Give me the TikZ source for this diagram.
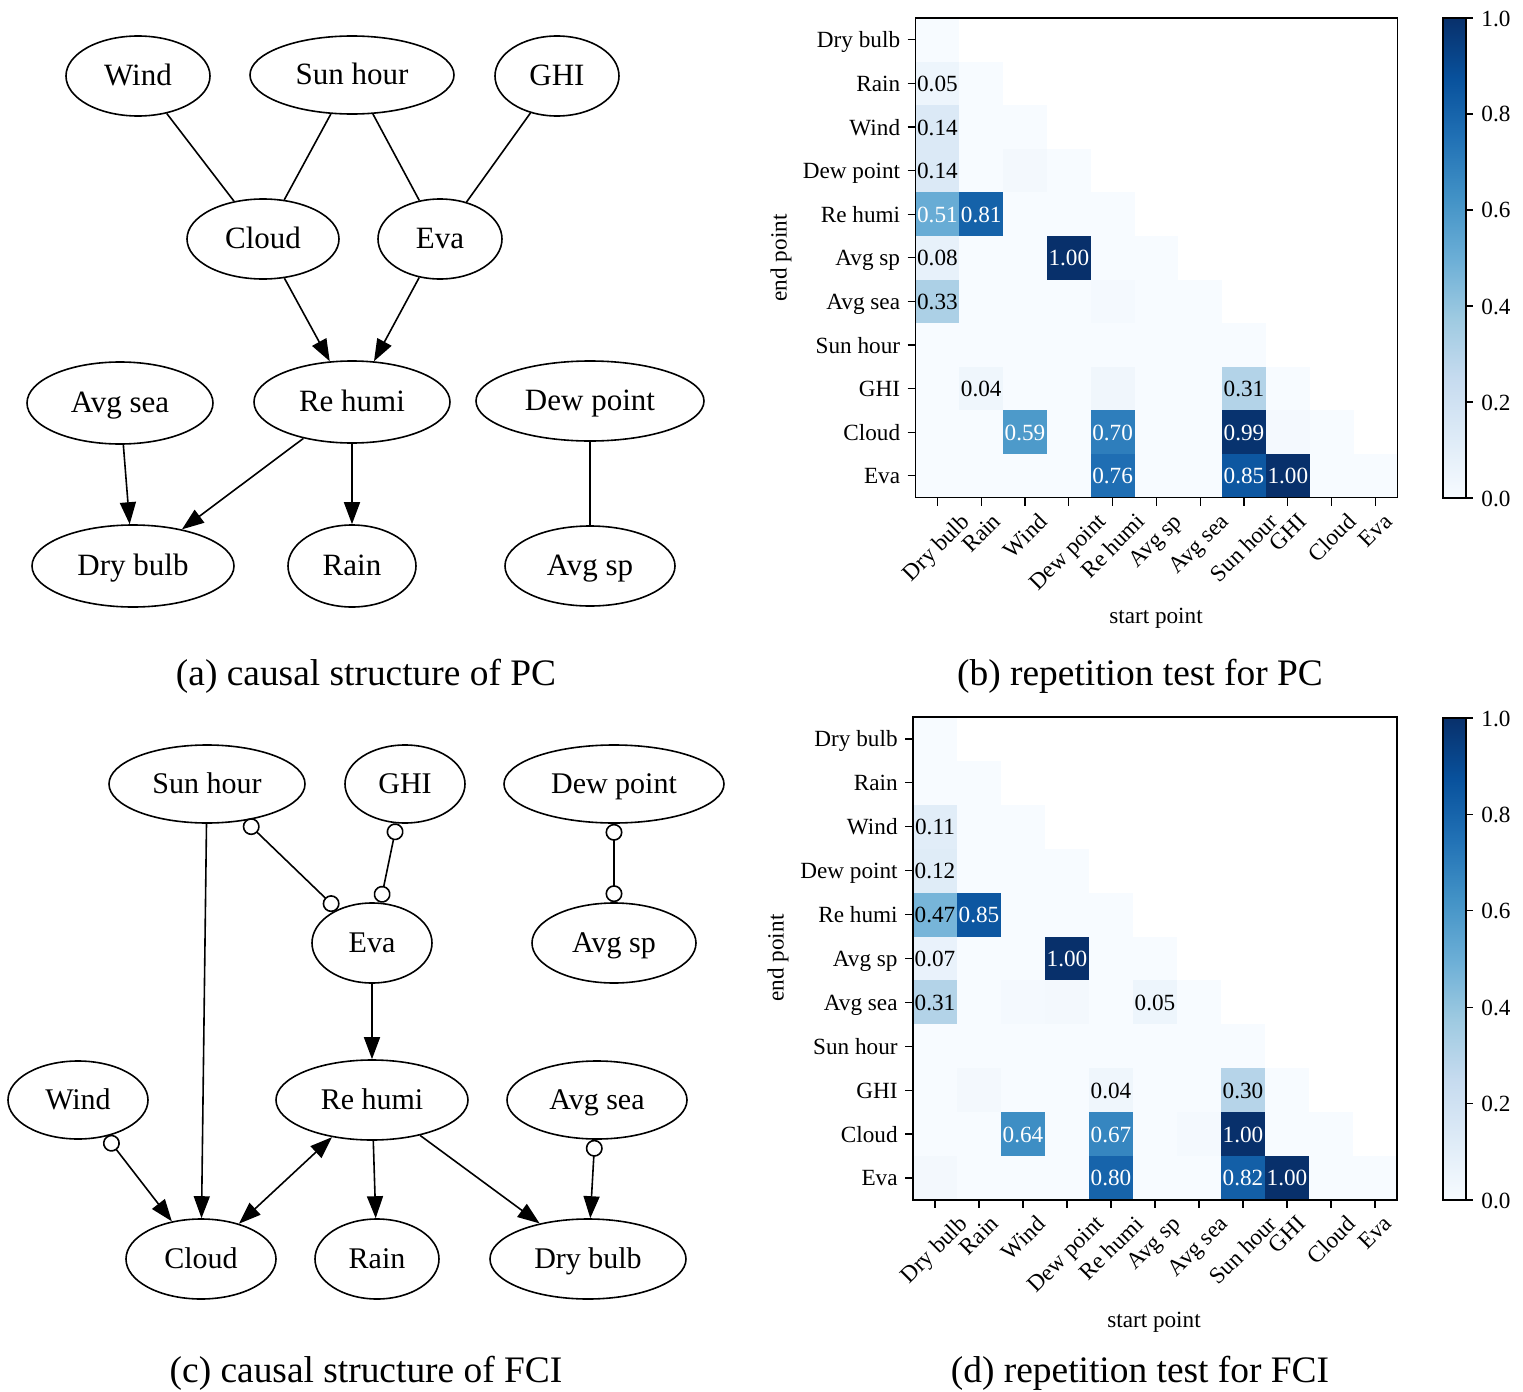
\documentclass[tikz,border=0pt]{standalone}
\usepackage{fontspec}
\setmainfont{Liberation Serif}
\usepackage{graphicx}
\usetikzlibrary{shapes.geometric,arrows.meta}

\definecolor{bl0}{RGB}{247,251,255}
\definecolor{bl1}{RGB}{222,235,247}
\definecolor{bl2}{RGB}{198,219,239}
\definecolor{bl3}{RGB}{158,202,225}
\definecolor{bl4}{RGB}{107,174,214}
\definecolor{bl5}{RGB}{66,146,198}
\definecolor{bl6}{RGB}{33,113,181}
\definecolor{bl7}{RGB}{8,81,156}
\definecolor{bl8}{RGB}{8,48,107}

\newcommand\gfontA{\fontsize{15.5}{18}\selectfont}
\newcommand\gfontC{\fontsize{15}{18}\selectfont}
\newcommand\tfont{\fontsize{11.6}{14}\selectfont}
\newcommand\capfont{\fontsize{18.7}{22}\selectfont}

\tikzset{
  gnode/.style={draw, ellipse, line width=0.8pt, inner sep=0pt, text height=0.9em, text depth=0pt},
  gedge/.style={line width=0.8pt},
  garrow/.style={gedge, -{Triangle[length=11pt,width=8pt]}},
  gboth/.style={gedge, {Triangle[length=11pt,width=8pt]}-{Triangle[length=11pt,width=8pt]}},
  goo/.style={gedge, {Circle[open,length=8.5pt]}-{Circle[open,length=8.5pt]}},
  goarrow/.style={gedge, {Circle[open,length=8.5pt]}-{Triangle[length=11pt,width=8pt]}},
  tlab/.style={font=\tfont, inner sep=0pt},
  clab/.style={font=\tfont, inner sep=0pt, anchor=base},
  captext/.style={font=\capfont, inner sep=0pt, anchor=base},
  hframe/.style={line width=0.8pt},
  htick/.style={line width=0.6pt}
}

% graph node: name, x, y, rx, ry, font, text
\newcommand\gn[7]{\node[gnode, font=#6, minimum width=#4pt, minimum height=#5pt] (#1) at (#2,#3) {#7};}

% heatmap cells
\newcommand\hf[3]{\definecolor{tmpc}{RGB}{#3}%
  \fill[tmpc] ({\hx+#2*\cw},{\hy+#1*\ch}) rectangle ({\hx+(#2+1)*\cw},{\hy+(#1+1)*\ch});}
\newcommand\hv[6]{\definecolor{tmpc}{RGB}{#3}%
  \fill[tmpc] ({\hx+#2*\cw},{\hy+#1*\ch}) rectangle ({\hx+(#2+1)*\cw},{\hy+(#1+1)*\ch});
  \node[clab, text=#5] (#6) at ({\hx+(#2+0.5)*\cw},{\hy+(#1+0.5)*\ch+8}) {#4};}
\newcommand\hbase{%
  \foreach \i in {0,...,10}{\fill[bl0] (\hx,{\hy+\i*\ch}) rectangle ({\hx+(\i+1)*\cw},{\hy+(\i+1)*\ch});}}
\newcommand\hfr[1]{%
  \draw[hframe] (\hx,\hy) rectangle ({\hx+11*\cw},{\hy+11*\ch});
  \foreach \n [count=\k from 0] in {Dry bulb,Rain,Wind,Dew point,Re humi,Avg sp,Avg sea,Sun hour,GHI,Cloud,Eva}{
    \draw[htick] ({\hx-8},{\hy+(\k+0.5)*\ch}) -- (\hx,{\hy+(\k+0.5)*\ch});
    \node[tlab, anchor=base east] (#1y\k) at ({\hx-15},{\hy+(\k+0.5)*\ch+8}) {\n};
    \draw[htick] ({\hx+(\k+0.5)*\cw},{\hy+11*\ch}) -- ({\hx+(\k+0.5)*\cw},{\hy+11*\ch+8});
    \node[tlab, anchor=north] (#1x\k) at ({\hx+(\k+0.5)*\cw},{\hy+11*\ch+14}) {\rotatebox{45}{\n}};
  }}
% colorbar: prefix, top, bottom
\newcommand\cbar[3]{%
  \foreach \k [evaluate=\k as \kk using int(\k+1)] in {0,...,7}{
    \shade[bottom color=bl\k, top color=bl\kk] (1443,{#3-\k*(#3-#2)/8}) rectangle (1466,{#3-(\k+1)*(#3-#2)/8});
  }
  \draw[hframe] (1443,#2) rectangle (1466,#3);
  \foreach \v/\t [count=\m] in {0/0.0,0.2/0.2,0.4/0.4,0.6/0.6,0.8/0.8,1/1.0}{
    \draw[htick] (1466,{#3-\v*(#3-#2)}) -- (1473,{#3-\v*(#3-#2)});
    \node[tlab, anchor=base west] (#1c\m) at (1481,{#3-\v*(#3-#2)+8}) {\t};
  }}

\begin{document}
\begin{tikzpicture}[x=0.5pt,y=-0.5pt]
\useasboundingbox (0,0) rectangle (1523,1392);

% ================= (a) =================
\gn{wind}{138}{76}{72}{40}{\gfontA}{Wind}
\gn{sunh}{352}{75}{102}{39}{\gfontA}{Sun hour}
\gn{ghi}{557}{76}{62}{40}{\gfontA}{GHI}
\gn{cloud}{263}{239}{76}{40}{\gfontA}{Cloud}
\gn{eva}{440}{239}{62}{40}{\gfontA}{Eva}
\gn{avgsea}{120}{403}{93}{41}{\gfontA}{Avg sea}
\gn{rehumi}{352}{402}{98}{41}{\gfontA}{Re humi}
\gn{dew}{590}{401}{114}{40}{\gfontA}{Dew point}
\gn{dry}{133}{566}{101}{41}{\gfontA}{Dry bulb}
\gn{rain}{352}{566}{64}{41}{\gfontA}{Rain}
\gn{avgsp}{590}{566}{85}{40}{\gfontA}{Avg sp}

\draw[gedge] (wind) -- (cloud);
\draw[gedge] (sunh) -- (cloud);
\draw[gedge] (sunh) -- (eva);
\draw[gedge] (ghi) -- (eva);
\draw[garrow] (cloud) -- (rehumi);
\draw[garrow] (eva) -- (rehumi);
\draw[garrow] (avgsea) -- (dry);
\draw[garrow] (rehumi) -- (dry);
\draw[garrow] (rehumi) -- (rain);
\draw[gedge] (dew) -- (avgsp);

% ================= (c) =================
\gn{csun}{207}{784}{98}{39}{\gfontC}{Sun hour}
\gn{cghi}{405}{784}{60}{39}{\gfontC}{GHI}
\gn{cdew}{614}{784}{110}{39}{\gfontC}{Dew point}
\gn{ceva}{372}{943}{60}{40}{\gfontC}{Eva}
\gn{cavgsp}{614}{943}{82}{40}{\gfontC}{Avg sp}
\gn{cwind}{78}{1100}{70}{39}{\gfontC}{Wind}
\gn{crehumi}{372}{1100}{96}{40}{\gfontC}{Re humi}
\gn{cavgsea}{597}{1100}{90}{39}{\gfontC}{Avg sea}
\gn{ccloud}{201}{1259}{75}{40}{\gfontC}{Cloud}
\gn{crain}{377}{1259}{62}{40}{\gfontC}{Rain}
\gn{cdry}{588}{1259}{98}{40}{\gfontC}{Dry bulb}

\draw[garrow] (csun) -- (ccloud);
\draw[goo] (csun) -- (ceva);
\draw[goo] (cghi) -- (ceva);
\draw[goo] (cdew) -- (cavgsp);
\draw[garrow] (ceva) -- (crehumi);
\draw[goarrow] (cwind) -- (ccloud);
\draw[gboth] (crehumi) -- (ccloud);
\draw[garrow] (crehumi) -- (crain);
\draw[garrow] (crehumi) -- (cdry);
\draw[goarrow] (cavgsea) -- (cdry);

% ================= (b) =================
\def\hx{915.5}\def\hy{18}\def\cw{43.8}\def\ch{43.6}
\hbase
\hv{1}{0}{237,245,252}{0.05}{black}{b10}
\hv{2}{0}{219,233,246}{0.14}{black}{b20}
\hv{3}{0}{219,233,246}{0.14}{black}{b30}
\hf{3}{2}{243,248,253}
\hv{4}{0}{104,172,213}{0.51}{white}{b40}
\hv{4}{1}{21,98,169}{0.81}{white}{b41}
\hv{5}{0}{231,241,250}{0.08}{black}{b50}
\hv{5}{3}{8,48,107}{1.00}{white}{b53}
\hv{6}{0}{172,208,230}{0.33}{black}{b60}
\hf{6}{4}{244,249,254}
\hv{8}{1}{239,246,252}{0.04}{black}{b81}
\hf{8}{4}{240,246,252}
\hv{8}{7}{179,211,232}{0.31}{black}{b87}
\hv{9}{2}{77,154,202}{0.59}{white}{b92}
\hv{9}{4}{46,126,188}{0.70}{white}{b94}
\hv{9}{7}{8,51,111}{0.99}{white}{b97}
\hf{9}{8}{244,249,254}
\hv{10}{4}{31,110,179}{0.76}{white}{b104}
\hv{10}{7}{13,87,161}{0.85}{white}{b107}
\hv{10}{8}{8,48,107}{1.00}{white}{b108}
\hfr{b}
\node[tlab, anchor=base] (bxl) at (1156,623) {start point};
\node[tlab, rotate=90] (byl) at (781,258) {end point};
\cbar{b}{18}{498}

% ================= (d) =================
\def\hx{913}\def\hy{717}\def\cw{44}\def\ch{43.9}
\hbase
\hv{2}{0}{225,237,248}{0.11}{black}{d20}
\hv{3}{0}{223,236,247}{0.12}{black}{d30}
\hv{4}{0}{119,181,217}{0.47}{black}{d40}
\hv{4}{1}{13,87,161}{0.85}{white}{d41}
\hv{5}{0}{233,242,251}{0.07}{black}{d50}
\hv{5}{3}{8,48,107}{1.00}{white}{d53}
\hv{6}{0}{179,211,232}{0.31}{black}{d60}
\hf{6}{2}{244,249,254}
\hf{6}{3}{243,248,253}
\hv{6}{5}{237,245,252}{0.05}{black}{d65}
\hf{8}{1}{243,248,253}
\hv{8}{4}{239,246,252}{0.04}{black}{d84}
\hv{8}{7}{182,212,233}{0.30}{black}{d87}
\hv{9}{2}{62,142,196}{0.64}{white}{d92}
\hv{9}{4}{54,134,192}{0.67}{white}{d94}
\hf{9}{6}{244,249,254}
\hv{9}{7}{8,48,107}{1.00}{white}{d97}
\hf{10}{0}{243,248,253}
\hv{10}{4}{23,100,171}{0.80}{white}{d104}
\hv{10}{7}{19,95,167}{0.82}{white}{d107}
\hv{10}{8}{8,48,107}{1.00}{white}{d108}
\hfr{d}
\node[tlab, anchor=base] (dxl) at (1154,1327) {start point};
\node[tlab, rotate=90] (dyl) at (778,958) {end point};
\cbar{d}{718}{1200}

% ================= captions =================
\node[captext] (capa) at (366,685) {(a) causal structure of PC};
\node[captext] (capb) at (1140,685) {(b) repetition test for PC};
\node[captext] (capc) at (366,1382) {(c) causal structure of FCI};
\node[captext] (capd) at (1140,1382) {(d) repetition test for FCI};
\end{tikzpicture}
\end{document}
